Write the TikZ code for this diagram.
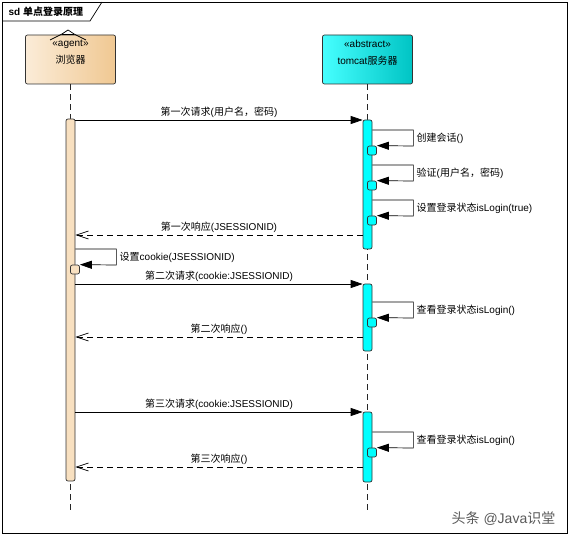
\documentclass[tikz,border=0pt]{standalone}
\usepackage{fontspec}
\setmainfont{Liberation Sans}
\newfontfamily\cjk{Noto Sans CJK SC}
\usetikzlibrary{arrows.meta}
\definecolor{agentlight}{RGB}{251,236,216}
\definecolor{agentdark}{RGB}{240,200,146}
\definecolor{agentbar}{RGB}{248,224,192}
\definecolor{serverlight}{RGB}{70,255,255}
\definecolor{serverdark}{RGB}{0,196,196}
\definecolor{serverbar}{RGB}{0,255,255}
\begin{document}
\begin{tikzpicture}[x = 1pt, y = -1pt, line width = 0.7pt,
                        font = \fontsize{10}{12}\selectfont,
                        head/.style = {draw = black!80, rounded corners = 2pt, minimum width = 90pt, minimum height = 49pt, inner sep = 0pt},
                        headtext/.style = {align = center, inner sep = 0pt, font = \fontsize{10}{17}\selectfont},
                        life/.style = {draw = black!85, dash pattern = on 6pt off 4pt},
                        abar/.style = {draw = black!80, fill = agentbar, rounded corners = 2pt, minimum width = 9pt, inner sep = 0pt},
                        sbar/.style = {draw = black!80, fill = serverbar, rounded corners = 2pt, minimum width = 9pt, inner sep = 0pt},
                        call/.style = {-{Triangle[length = 12pt, width = 8pt]}},
                        reply/.style = {dash pattern = on 6pt off 4pt, -{Straight Barb[length = 12pt, width = 8pt]}},
                        msglabel/.style = {above, inner sep = 2pt},
                        selflabel/.style = {right, inner sep = 3pt}]
      \useasboundingbox (0, 0) rectangle (570, 537);
      % frame
      \draw (2, 2) rectangle (567, 533);
      \draw (2, 21) -- (90, 21) -- (102, 2);
      \node [anchor = west, font = \bfseries\fontsize{10}{12}\selectfont] (title) at (5, 11.5){sd {\cjk 单点登录原理}};
      % heads and lifelines
      \node [head, left color = agentlight, right color = agentdark] (browser) at (70.5, 59.5){};
      \node [head, left color = serverlight, right color = serverdark] (tomcat) at (367.5, 59.5){};
      \node [headtext] (browsername) at (70.5, 52.5){«agent»\\{\cjk 浏览器}};
      \node [headtext] (tomcatname) at (367.5, 52.5){«abstract»\\tomcat{\cjk 服务器}};
      \draw (50, 40) -- (62, 34) -- (68, 30) -- (74, 34) -- (86, 40);
      \draw (62, 34) -- (74, 34);
      \coordinate (browserend) at (70.5, 512);
      \coordinate (tomcatend) at (367.5, 512);
      \draw [life] (browser.south) -- (browserend);
      \draw [life] (tomcat.south) -- (tomcatend);
      % activations
      \node [abar, minimum height = 362pt] (abar1) at (70.5, 300){};
      \node [sbar, minimum height = 129pt] (sbar1) at (367.5, 184.5){};
      \node [sbar, minimum height = 67pt] (sbar2) at (367.5, 317.5){};
      \node [sbar, minimum height = 70pt] (sbar3) at (367.5, 447){};
      \node [abar, minimum height = 9pt] (anest1) at (75, 269.5){};
      \node [sbar, minimum height = 9pt] (snest1) at (372, 150.5){};
      \node [sbar, minimum height = 9pt] (snest2) at (372, 185.5){};
      \node [sbar, minimum height = 9pt] (snest3) at (372, 220.5){};
      \node [sbar, minimum height = 9pt] (snest4) at (372, 322.5){};
      \node [sbar, minimum height = 9pt] (snest5) at (372, 452.5){};
      % first round
      \draw [call] (abar1.east |- 0, 120) -- node [msglabel] (msg1){{\cjk 第一次请求}({\cjk 用户名，密码})} (sbar1.west |- 0, 120);
      \draw [call] (sbar1.east |- 0, 130) -- ++(41, 0) -- node [selflabel] (self1){{\cjk 创建会话}()} ++(0, 16) -- (snest1.north east);
      \draw [call] (sbar1.east |- 0, 165) -- ++(41, 0) -- node [selflabel] (self2){{\cjk 验证}({\cjk 用户名，密码})} ++(0, 16) -- (snest2.north east);
      \draw [call] (sbar1.east |- 0, 200) -- ++(41, 0) -- node [selflabel] (self3){{\cjk 设置登录状态}isLogin(true)} ++(0, 16) -- (snest3.north east);
      \draw [reply] (sbar1.west |- 0, 235) -- node [msglabel] (reply1){{\cjk 第一次响应}(JSESSIONID)} (abar1.east |- 0, 235);
      \draw [call] (abar1.east |- 0, 249) -- ++(41, 0) -- node [selflabel] (self4){{\cjk 设置}cookie(JSESSIONID)} ++(0, 16) -- (anest1.north east);
      % second round
      \draw [call] (abar1.east |- 0, 284) -- node [msglabel] (msg2){{\cjk 第二次请求}(cookie:JSESSIONID)} (sbar2.west |- 0, 284);
      \draw [call] (sbar2.east |- 0, 302) -- ++(41, 0) -- node [selflabel] (self5){{\cjk 查看登录状态}isLogin()} ++(0, 16) -- (snest4.north east);
      \draw [reply] (sbar2.west |- 0, 337) -- node [msglabel] (reply2){{\cjk 第二次响应}()} (abar1.east |- 0, 337);
      % third round
      \draw [call] (abar1.east |- 0, 412) -- node [msglabel] (msg3){{\cjk 第三次请求}(cookie:JSESSIONID)} (sbar3.west |- 0, 412);
      \draw [call] (sbar3.east |- 0, 432) -- ++(41, 0) -- node [selflabel] (self6){{\cjk 查看登录状态}isLogin()} ++(0, 16) -- (snest5.north east);
      \draw [reply] (sbar3.west |- 0, 467) -- node [msglabel] (reply3){{\cjk 第三次响应}()} (abar1.east |- 0, 467);
      \node [anchor = east, text = black!65, font = \fontsize{14}{16}\selectfont] (mark) at (559, 519){{\cjk 头条} @Java{\cjk 识堂}};
    \end{tikzpicture}
\end{document}
